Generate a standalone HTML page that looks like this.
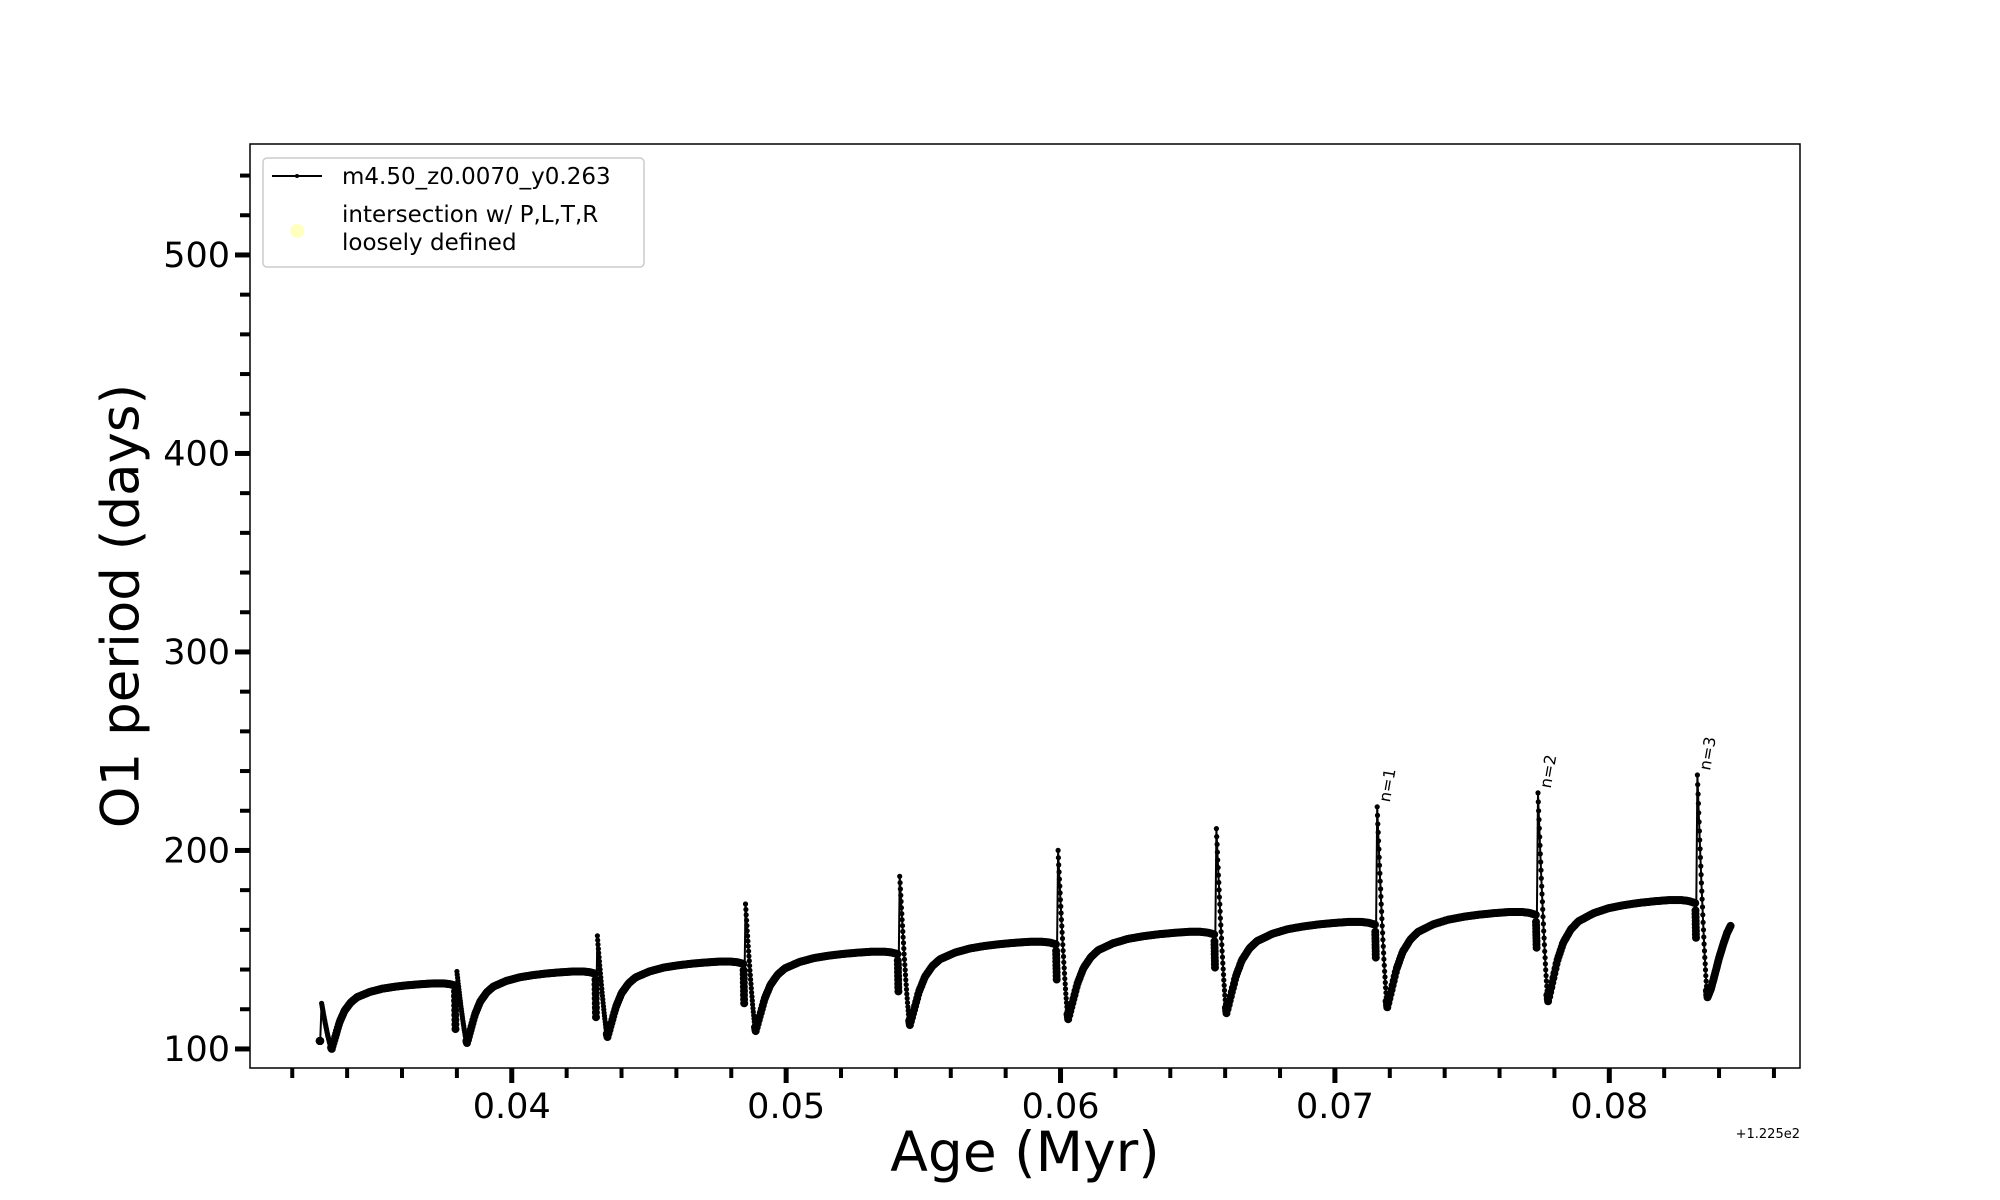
<!DOCTYPE html>
<html><head><meta charset="utf-8"><style>
html,body{margin:0;padding:0;background:#fff}
svg{display:block;font-family:"DejaVu Sans","Liberation Sans",sans-serif}
</style></head><body>
<svg id="chart" width="2000" height="1200" viewBox="0 0 2000 1200">
<rect width="2000" height="1200" fill="#fff"/>
<g id="plot"></g>
<g id="axes"></g>
<text x="124" y="606" font-size="53" text-anchor="middle" dominant-baseline="middle" transform="rotate(-90 124 606)">O1 period (days)</text>
<text x="1025" y="1171" font-size="55" text-anchor="middle">Age (Myr)</text>
<text x="1800" y="1138" font-size="13" text-anchor="end">+1.225e2</text>
<g>
<rect x="263" y="158" width="381" height="109" rx="4" fill="#fff" stroke="#ccc" stroke-width="1.5"/>
<line x1="272" y1="176" x2="322" y2="176" stroke="#000" stroke-width="2"/>
<circle cx="297" cy="176" r="2" fill="#000"/>
<text x="342" y="184" font-size="23">m4.50_z0.0070_y0.263</text>
<circle cx="297" cy="231" r="7" fill="#ffffc0"/>
<text x="342" y="222" font-size="23">intersection w/ P,L,T,R</text>
<text x="342" y="250" font-size="23">loosely defined</text>
</g>
</svg>
<script>
// data
const pulseAges = [0.03302,0.03795,0.04307,0.04847,0.05409,0.05986,0.06563,0.07149,0.07735,0.08316];
const peakValues = [123,139,157,173,187,200,211,222,229,238];
const minValues = [100,103,106,109,112,115,118,121,124,126];
const plateauValues = [133,139,144,149,154,159,164,169,175,162];
const dipValues = [104,110,116,123,129,135,141,146,151,156];
const endAge = 0.08442;
const spikeLabels = ["","","","","","","","n=1","n=2","n=3"];
const yTicks = [100,200,300,400,500];
const xTicks = [0.04,0.05,0.06,0.07,0.08];
const xTickLabels = ["0.04","0.05","0.06","0.07","0.08"];
// recovery shape template (fraction of cycle, fraction of recovery)
const shapeT = [0,0.03,0.06,0.1,0.15,0.2,0.3,0.4,0.5,0.6,0.7,0.8,0.88,0.93,0.97];
const shapeF = [0,0.2,0.4,0.58,0.71,0.79,0.87,0.92,0.95,0.972,0.988,1.0,1.0,0.99,0.97];
// final partial cycle shape (fraction of remaining time, fraction of recovery)
const lastT = [0,0.15,0.3,0.5,0.7,0.85,1];
const lastF = [0,0.12,0.3,0.55,0.76,0.9,1];

const X0=250,X1=1800,Y0=144,Y1=1068;
const xmin=0.03046,xmax=0.08695,ymin=90.4,ymax=555.9;
const sx=v=>X0+(v-xmin)/(xmax-xmin)*(X1-X0);
const sy=v=>Y1-(v-ymin)/(ymax-ymin)*(Y1-Y0);
const NS="http://www.w3.org/2000/svg";
function mk(tag,attrs,parent){const e=document.createElementNS(NS,tag);for(const k in attrs)e.setAttribute(k,attrs[k]);parent.appendChild(e);return e;}
const plot=document.getElementById('plot'),axes=document.getElementById('axes');
function interp(T,F,u){let j=0;while(j<T.length-2&&T[j+1]<u)j++;return F[j]+(F[j+1]-F[j])*(u-T[j])/(T[j+1]-T[j]);}

const frame=mk('rect',{x:X0,y:Y0,width:X1-X0,height:Y1-Y0,fill:'none',stroke:'#000','stroke-width':1.5},axes);


for(let v=100;v<=540;v+=20){
  const major=v%100===0;
  const t=mk('line',{x1:X0,x2:X0-(major?15:10),y1:sy(v),y2:sy(v),stroke:'#000','stroke-width':major?5:4},axes);
  
  
}
yTicks.forEach(v=>{const t=mk('text',{x:X0-20,y:sy(v)+12,'font-size':35,'text-anchor':'end'},axes);t.textContent=v;
  
  });
for(let i=16;i<=43;i++){
  const v=i*0.002;const major=i%5===0;
  const t=mk('line',{x1:sx(v),x2:sx(v),y1:Y1,y2:Y1+(major?15:10),stroke:'#000','stroke-width':major?5:4},axes);
  
  
}
xTicks.forEach((v,i)=>{const t=mk('text',{x:sx(v),y:1118,'font-size':35,'text-anchor':'middle'},axes);t.textContent=xTickLabels[i];
  
  });

// build points
const spikePts=[], recPts=[], all=[];
for(let i=0;i<pulseAges.length;i++){
  const p=pulseAges[i];
  const next=i+1<pulseAges.length?pulseAges[i+1]:endAge;
  const last=i===pulseAges.length-1;
  // vertical drop from plateau to dip just before pulse
  const startV=i>0?plateauValues[i-1]*0.97:dipValues[i];
  for(let k=0;k<=8;k++){const q=[p-0.00002*(1-k/8),startV+(dipValues[i]-startV)*k/8];all.push(q);recPts.push(q);}
  all.push([p+0.00005,peakValues[i]]);spikePts.push([p+0.00005,peakValues[i]]);
  const tmin=p+0.00042;
  for(let k=1;k<=30;k++){const f=k/30;
    const q=[p+0.00005+(tmin-p-0.00005)*f,peakValues[i]+(minValues[i]-peakValues[i])*(1-Math.pow(1-f,1.3))];
    all.push(q);(k>27?recPts:spikePts).push(q);}
  const target=plateauValues[i];
  const N=last?40:140;
  for(let k=1;k<=N;k++){
    let tt,f;
    if(last){const u=k/N;tt=tmin+(next-tmin)*u;f=interp(lastT,lastF,u);}
    else{const u=k/N*0.97;tt=tmin+(next-tmin-0.00003)*u/0.97;f=interp(shapeT,shapeF,u);}
    const q=[tt,minValues[i]+(target-minValues[i])*f];
    all.push(q);recPts.push(q);
  }
}
const d=all.map((q,i)=>(i?'L':'M')+sx(q[0]).toFixed(1)+' '+sy(q[1]).toFixed(1)).join('');
const line=mk('path',{d:d,fill:'none',stroke:'#000','stroke-width':2},plot);


recPts.forEach(q=>{const c=mk('circle',{cx:sx(q[0]).toFixed(1),cy:sy(q[1]).toFixed(1),r:4,fill:'#000'},plot);
  
  });
spikePts.forEach(q=>{const c=mk('circle',{cx:sx(q[0]).toFixed(1),cy:sy(q[1]).toFixed(1),r:2.6,fill:'#000'},plot);
  
  });
spikeLabels.forEach((s,i)=>{if(!s)return;
  const x=sx(pulseAges[i])+14,y=sy(peakValues[i])-4;
  const t=mk('text',{x:x,y:y,'font-size':16,transform:`rotate(-80 ${x} ${y})`},plot);t.textContent=s;
  
  });
</script>
</body></html>
